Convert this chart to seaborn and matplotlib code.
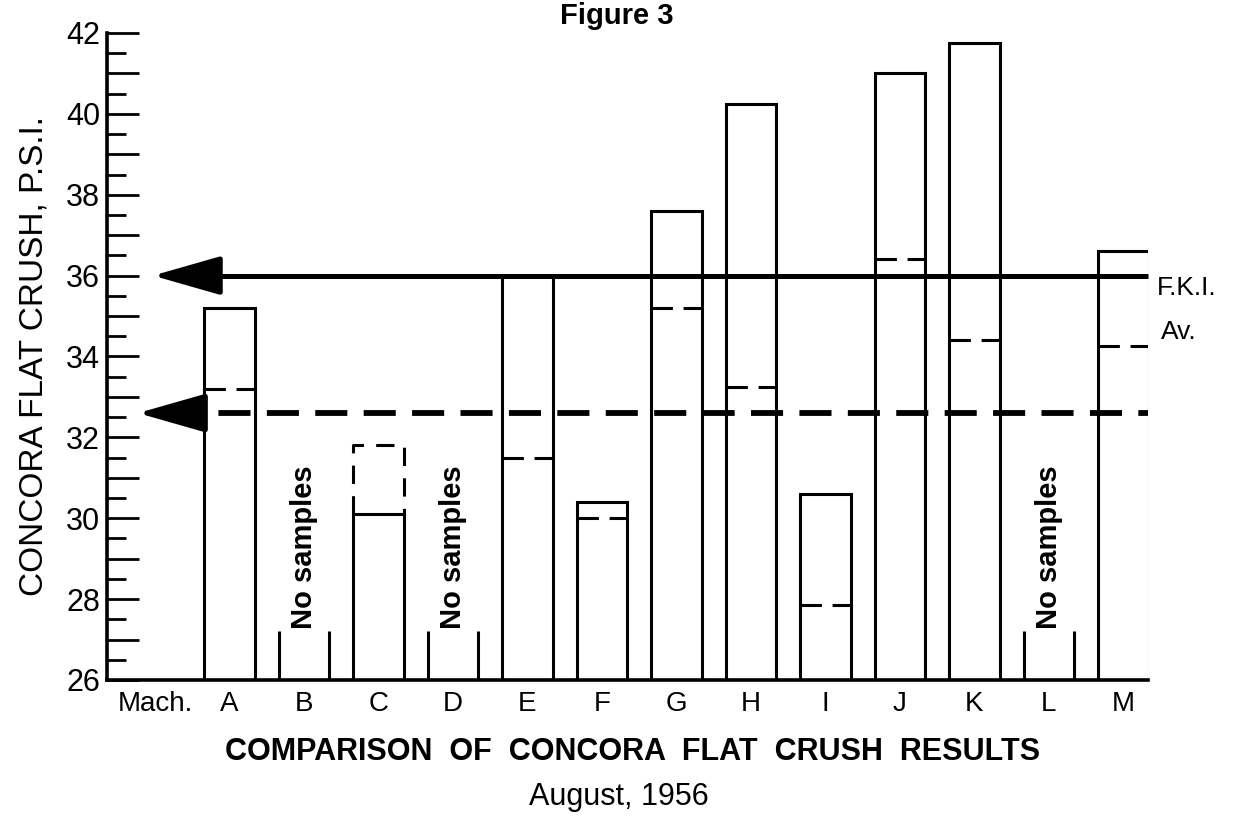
import numpy as np
import pandas as pd
import matplotlib
matplotlib.use("Agg")
import matplotlib.pyplot as plt
import seaborn as sns
from matplotlib.ticker import MultipleLocator, FuncFormatter

# values
machines = ["Mach.", "A", "B", "C", "D", "E", "F", "G", "H", "I", "J", "K", "L", "M"]
solid_crush = [np.nan, 35.2, np.nan, 30.1, np.nan, 36.0, 30.4, 37.6, 40.25, 30.6, 41.0, 41.75, np.nan, 36.6]
dashed_crush = [np.nan, 33.2, np.nan, 31.8, np.nan, 31.5, 30.0, 35.2, 33.25, 27.85, 36.4, 34.4, np.nan, 34.25]
no_samples = ["B", "D", "L"]
fki_average = 36.0
overall_average = 32.6

df = pd.DataFrame({"machine": machines, "solid": solid_crush, "dashed": dashed_crush})

sns.set_theme(style="white")
plt.rcParams["font.family"] = ["Liberation Sans", "DejaVu Sans"]
plt.rcParams["text.color"] = "black"
plt.rcParams["axes.labelcolor"] = "black"

fig, ax = plt.subplots(figsize=(12.5, 8.25), dpi=100)
fig.subplots_adjust(left=0.0856, right=0.9184, bottom=0.1758, top=0.96)

bar_w = 0.675
sns.barplot(data=df, x="machine", y="solid", order=machines, fill=False,
            color="black", linewidth=2.2, width=bar_w, errorbar=None, ax=ax)

# second (dashed) result for each machine
for i, row in df.iterrows():
    if np.isnan(row["dashed"]):
        continue
    x0, x1 = i - bar_w / 2, i + bar_w / 2
    if row["dashed"] <= row["solid"]:
        ax.hlines(row["dashed"], x0, x1, colors="black", lw=2.2,
                  linestyles=(0, (7, 3.5)))
    else:
        ax.plot([x0, x0, x1, x1], [row["solid"], row["dashed"], row["dashed"], row["solid"]],
                color="black", lw=2.2, ls=(0, (6, 4)))

# machines without samples
for m in no_samples:
    i = machines.index(m)
    ax.vlines([i - bar_w / 2, i + bar_w / 2], 26, 27.2, colors="black", lw=2.2)
    ax.text(i, 27.25, "No samples", rotation=90, ha="center", va="bottom",
            fontsize=21, fontweight="bold")

ax.set_xlim(-0.645, 13.33)
ax.set_ylim(26, 42)

# averages with arrows
ax.hlines(fki_average, 0.3, 13.33, colors="black", lw=3.6, clip_on=False)
ax.annotate("", xy=(-0.03, fki_average), xytext=(0.8, fki_average),
            arrowprops=dict(arrowstyle="-|>,head_length=2.1,head_width=0.6",
                            color="black", lw=3.6, mutation_scale=20,
                            shrinkA=0, shrinkB=0))
ax.hlines(overall_average, 0.2, 13.33, colors="black", lw=4.2,
          linestyles=(0, (5.5, 2.8)), clip_on=False)
ax.annotate("", xy=(-0.23, overall_average), xytext=(0.6, overall_average),
            arrowprops=dict(arrowstyle="-|>,head_length=2.1,head_width=0.6",
                            color="black", lw=3.6, mutation_scale=20,
                            shrinkA=0, shrinkB=0))
ax.text(13.45, 35.7, "F.K.I.", ha="left", va="center", fontsize=19, clip_on=False)
ax.text(13.5, 34.6, "Av.", ha="left", va="center", fontsize=19, clip_on=False)

# axes styling
for side in ["top", "right"]:
    ax.spines[side].set_visible(False)
for side in ["left", "bottom"]:
    ax.spines[side].set_linewidth(2.6)
    ax.spines[side].set_color("black")

ax.yaxis.set_major_locator(MultipleLocator(1))
ax.yaxis.set_minor_locator(MultipleLocator(0.5))
ax.yaxis.set_major_formatter(FuncFormatter(lambda v, p: f"{v:.0f}" if round(v) % 2 == 0 else ""))
ax.tick_params(axis="y", which="both", left=True, direction="in", color="black")
ax.tick_params(axis="y", which="major", length=23, width=2, pad=5,
               labelsize=22, labelcolor="black")
ax.tick_params(axis="y", which="minor", length=13.5, width=2)
ax.tick_params(axis="x", bottom=False, length=0, pad=8, labelsize=20, labelcolor="black")

ax.set_xlabel("")
ax.set_ylabel("CONCORA FLAT CRUSH, P.S.I.", fontsize=24, labelpad=12, color="black")

fig.suptitle("Figure 3", x=0.493, y=0.998, fontsize=21, fontweight="bold", color="black")
fig.text(0.506, 0.088, "COMPARISON  OF  CONCORA  FLAT  CRUSH  RESULTS", ha="center",
         va="center", fontsize=22, fontweight="bold")
fig.text(0.495, 0.034, "August, 1956", ha="center", va="center", fontsize=22)

fig.savefig("out.png", dpi=100, facecolor="white")
